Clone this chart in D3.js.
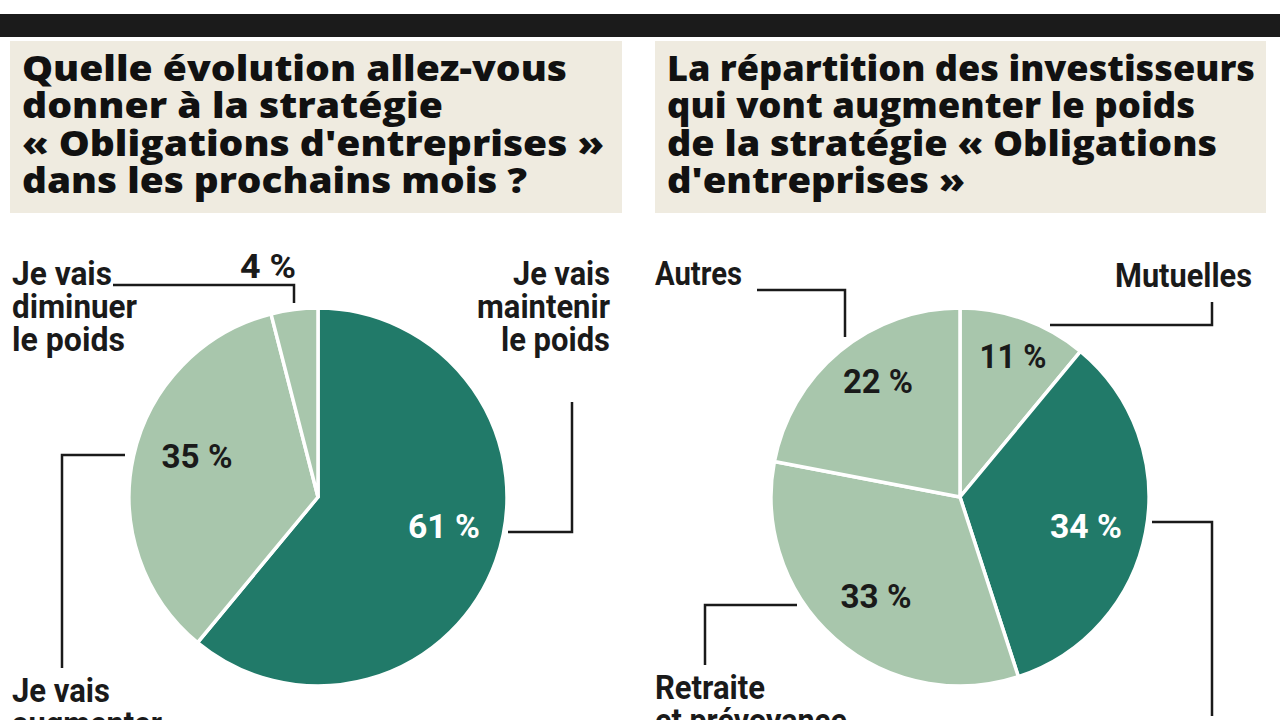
<!DOCTYPE html>
<html>
<head>
<meta charset="utf-8">
<script src="https://cdn.jsdelivr.net/npm/d3@7"></script>
<style>
  html, body { margin: 0; padding: 0; background: #ffffff; overflow: hidden; }
  svg { display: block; }
  .title { font-family: "Open Sans", "DejaVu Sans", sans-serif; font-weight: 800; font-size: 35px; fill: #111; }
  .lab { font-family: Roboto, "Liberation Sans", sans-serif; font-weight: bold; font-size: 34px; fill: #1a1a1a; }
  .pct { font-family: Roboto, "Liberation Sans", sans-serif; font-weight: bold; font-size: 33px; }
</style>
</head>
<body>
<svg id="chart" width="1280" height="720"></svg>
<script>
// ---- Data ----
const leftTitle = ["Quelle évolution allez-vous", "donner à la stratégie", "« Obligations d'entreprises »", "dans les prochains mois ?"];
const rightTitle = ["La répartition des investisseurs", "qui vont augmenter le poids", "de la stratégie « Obligations", "d'entreprises »"];

const leftCategories = ["Je vais maintenir le poids", "Je vais augmenter le poids", "Je vais diminuer le poids"];
const leftValues = [61, 35, 4];
const leftDark = [true, false, false];

const rightCategories = ["Mutuelles", "Assureurs", "Retraite et prévoyance", "Autres"];
const rightValues = [11, 34, 33, 22];
const rightDark = [false, true, false, false];

// ---- Style / layout ----
const DARK = "#217a69", LIGHT = "#a8c6ac", BOX = "#efebe0";
const svg = d3.select("#chart");

svg.append("rect").attr("x", 0).attr("y", 14).attr("width", 1280).attr("height", 23).attr("fill", "#1b1b1b");

function titleBox(x0, w, lines, widths) {
  svg.append("rect").attr("x", x0).attr("y", 41).attr("width", w).attr("height", 172).attr("fill", BOX);
  const baselines = [81, 118, 156, 193];
  lines.forEach((t, i) => {
    svg.append("text").attr("class", "title")
      .attr("x", x0 + 12).attr("y", baselines[i])
      .attr("textLength", widths[i]).attr("lengthAdjust", "spacingAndGlyphs")
      .text(t);
  });
}
titleBox(10, 612, leftTitle, [545, 421, 582, 505]);
titleBox(655, 611, rightTitle, [588, 528, 550, 298]);

const R = 189;
const arc = d3.arc().innerRadius(0).outerRadius(R);
const pie = d3.pie().sort(null).value(d => d);

function drawPie(cx, cy, values, dark, pctPos) {
  const g = svg.append("g").attr("transform", `translate(${cx},${cy})`);
  const arcs = pie(values);
  g.selectAll("path").data(arcs).join("path")
    .attr("d", arc)
    .attr("fill", (d, i) => dark[i] ? DARK : LIGHT)
    .attr("stroke", "#ffffff").attr("stroke-width", 3.5).attr("stroke-linejoin", "round");
  arcs.forEach((d, i) => {
    const p = pctPos[i];
    const t = values[i] + " %";
    svg.append("text").attr("class", "pct")
      .attr("x", cx + p[0] - p[2] / 2).attr("y", cy + p[1])
      .attr("textLength", p[2]).attr("lengthAdjust", "spacingAndGlyphs")
      .attr("fill", dark[i] ? "#ffffff" : "#1a1a1a")
      .text(t);
  });
}

// percentage label offsets relative to pie centre, and widths (annotation layout)
drawPie(318, 497, leftValues, leftDark, [[126, 41, 72], [-121, -29, 71], [-50, -219, 56]]);
drawPie(960, 497, rightValues, rightDark, [[53, -129, 67], [126, 41, 72], [-84, 111, 71], [-82, -104, 70]]);

// leader lines
const leaders = [
  [[113, 285], [294, 285], [294, 303]],
  [[508, 532], [572, 532], [572, 402]],
  [[125, 455], [62, 455], [62, 668]],
  [[757, 290], [845, 290], [845, 337]],
  [[1050, 325], [1212, 325], [1212, 302]],
  [[1152, 522], [1212, 522], [1212, 716]],
  [[797, 605], [705, 605], [705, 665]]
];
const line = d3.line();
svg.selectAll("path.leader").data(leaders).join("path")
  .attr("class", "leader").attr("d", line)
  .attr("fill", "none").attr("stroke", "#1a1a1a").attr("stroke-width", 2.5);

// category labels: [text, width]
function label(x, y, lines, anchor) {
  lines.forEach(([t, w], i) => {
    const x0 = anchor === "end" ? x - w : x;
    svg.append("text").attr("class", "lab")
      .attr("x", x0).attr("y", y + i * 33)
      .attr("textLength", w).attr("lengthAdjust", "spacingAndGlyphs")
      .text(t);
  });
}
label(12, 285, [["Je vais", 100], ["diminuer", 125], ["le poids", 113]], "start");
label(610, 285, [["Je vais", 97], ["maintenir", 133], ["le poids", 109]], "end");
label(12, 702, [["Je vais", 98], ["augmenter", 150]], "start");
label(655, 285, [["Autres", 87]], "start");
label(1252, 287, [["Mutuelles", 137]], "end");
label(655, 699, [["Retraite", 110], ["et prévoyance", 192]], "start");
</script>
</body>
</html>
